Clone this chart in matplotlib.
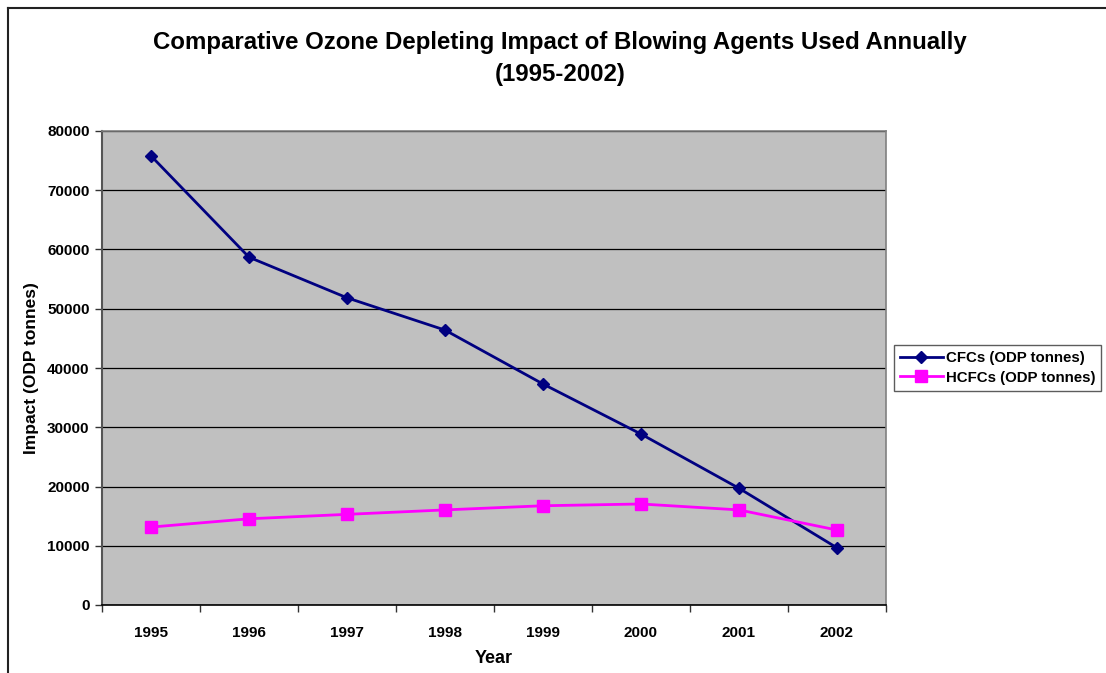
import matplotlib
matplotlib.use("Agg")
import matplotlib.pyplot as plt
from matplotlib.lines import Line2D
from matplotlib.ticker import FixedLocator, NullFormatter

plt.rcParams['font.family'] = ['Liberation Sans', 'DejaVu Sans']

years = ['1995', '1996', '1997', '1998', '1999', '2000', '2001', '2002']
cfcs = [75800, 58700, 51850, 46400, 37300, 28850, 19700, 9650]
hcfcs = [13150, 14550, 15300, 16050, 16750, 17050, 16050, 12650]
y_ticks = [0, 10000, 20000, 30000, 40000, 50000, 60000, 70000, 80000]

fig = plt.figure(figsize=(11.06, 6.73), dpi=100)
fig.patch.set_facecolor('white')

# outer frame of the chart area (top and left edges)
fig.add_artist(Line2D([8 / 1106, 1.0], [1 - 8 / 673, 1 - 8 / 673],
                      transform=fig.transFigure, color='#222222', lw=1.5))
fig.add_artist(Line2D([8 / 1106, 8 / 1106], [0.0, 1 - 8 / 673],
                      transform=fig.transFigure, color='#222222', lw=1.5))

ax = fig.add_axes([102 / 1106, 1 - 605 / 673, 784 / 1106, 474 / 673])
ax.set_facecolor('#C0C0C0')

x = list(range(len(years)))
ax.plot(x, cfcs, color='#000080', lw=2.0, marker='D', markersize=6.5,
        label='CFCs (ODP tonnes)', zorder=3)
ax.plot(x, hcfcs, color='#FF00FF', lw=2.0, marker='s', markersize=9,
        label='HCFCs (ODP tonnes)', zorder=3)

ax.set_xlim(-0.5, len(years) - 0.5)
ax.set_ylim(0, 80000)

ax.set_yticks(y_ticks)
ax.set_yticklabels([str(v) for v in y_ticks], fontsize=11, fontweight='bold')
ax.yaxis.grid(True, color='#000000', lw=0.9)
ax.set_axisbelow(True)

# category boundaries as tick marks, labels centred between them
ax.xaxis.set_major_locator(FixedLocator([i - 0.5 for i in range(len(years) + 1)]))
ax.xaxis.set_major_formatter(NullFormatter())
ax.xaxis.set_minor_locator(FixedLocator(x))
ax.set_xticklabels(years, minor=True, fontsize=11, fontweight='bold')
ax.tick_params(axis='x', which='major', length=5, width=1, color='#333333')
ax.tick_params(axis='x', which='minor', length=0, pad=15)
ax.tick_params(axis='y', length=5, width=1, color='#333333', pad=4)

for side in ('top', 'right'):
    ax.spines[side].set_color('#808080')
    ax.spines[side].set_linewidth(1.2)
ax.spines['left'].set_color('#555555')
ax.spines['left'].set_linewidth(1.5)
ax.spines['bottom'].set_color('#000000')
ax.spines['bottom'].set_linewidth(1.2)

ax.set_xlabel('Year', fontsize=13, fontweight='bold', labelpad=7)
ax.set_ylabel('Impact (ODP tonnes)', fontsize=12.5, fontweight='bold', labelpad=6)

fig.text(0.5065, 1 - 43 / 673, 'Comparative Ozone Depleting Impact of Blowing Agents Used Annually',
         ha='center', va='center', fontsize=17.3, fontweight='bold')
fig.text(0.5065, 1 - 74 / 673, '(1995-2002)',
         ha='center', va='center', fontsize=17.3, fontweight='bold')

leg = fig.legend(loc='center left', bbox_to_anchor=(894 / 1106, 1 - 368 / 673),
                 borderaxespad=0.0, frameon=True, fancybox=False, edgecolor='#333333',
                 borderpad=0.4, handlelength=2.85, handletextpad=0.2,
                 labelspacing=0.35, prop={'weight': 'bold', 'size': 10.8})
leg.get_frame().set_linewidth(1.0)

fig.savefig('out.png', dpi=100, facecolor='white')
